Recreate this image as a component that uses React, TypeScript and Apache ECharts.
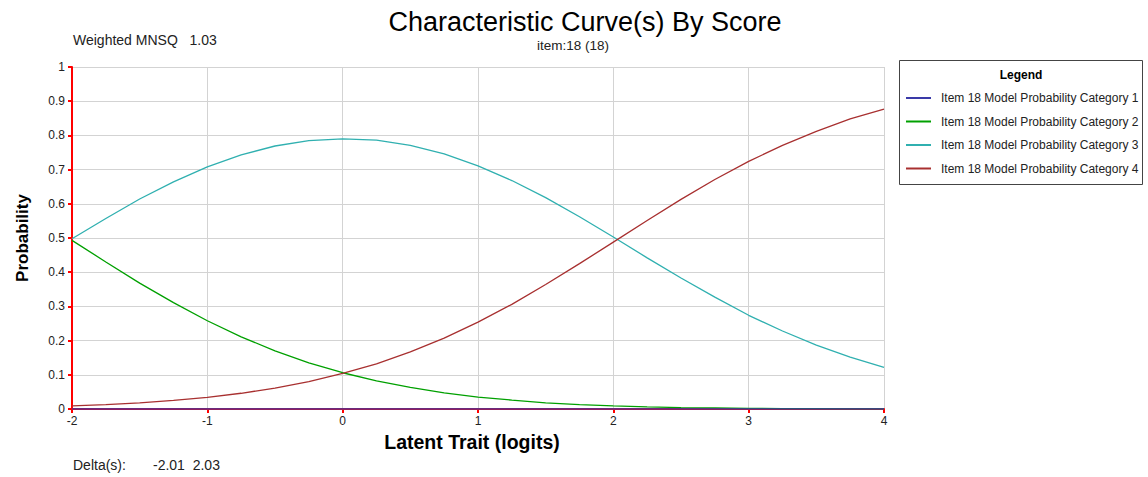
import React, { useEffect, useRef } from "react";
import * as echarts from "echarts";

const thetas = [-2, -1.75, -1.5, -1.25, -1, -0.75, -0.5, -0.25, 0, 0.25, 0.5, 0.75, 1, 1.25, 1.5, 1.75, 2, 2.25, 2.5, 2.75, 3, 3.25, 3.5, 3.75, 4];
const cat1 = [0, 0, 0, 0, 0, 0, 0, 0, 0, 0, 0, 0, 0, 0, 0, 0, 0, 0, 0, 0, 0, 0, 0, 0, 0];
const cat2 = [0.493, 0.43, 0.368, 0.311, 0.258, 0.211, 0.17, 0.135, 0.106, 0.082, 0.063, 0.047, 0.035, 0.026, 0.018, 0.013, 0.009, 0.006, 0.004, 0.003, 0.002, 0.001, 0.001, 0.0005, 0.0003];
const cat3 = [0.498, 0.557, 0.614, 0.664, 0.708, 0.743, 0.769, 0.785, 0.79, 0.786, 0.771, 0.746, 0.711, 0.668, 0.618, 0.562, 0.503, 0.442, 0.383, 0.327, 0.274, 0.228, 0.187, 0.152, 0.122];
const cat4 = [0.009, 0.013, 0.018, 0.025, 0.034, 0.046, 0.061, 0.08, 0.104, 0.132, 0.167, 0.207, 0.254, 0.306, 0.364, 0.425, 0.488, 0.551, 0.613, 0.671, 0.724, 0.771, 0.812, 0.848, 0.877];

const seriesNames = [
  "Item 18 Model Probability Category 1",
  "Item 18 Model Probability Category 2",
  "Item 18 Model Probability Category 3",
  "Item 18 Model Probability Category 4",
];
const seriesColors = ["#3a3aa8", "#00a000", "#30b0b0", "#a83030"];
const seriesData = [cat1, cat2, cat3, cat4];

const FONT = "'Liberation Sans', Arial, sans-serif";

export default function App() {
  const ref = useRef<HTMLDivElement>(null);
  useEffect(() => {
    if (!ref.current) return;
    const chart = echarts.init(ref.current, undefined, { renderer: "svg" });
    const series = seriesData.map((d, i) => ({
      name: seriesNames[i],
      type: "line",
      data: thetas.map((t, j) => [t, d[j]]),
      showSymbol: false,
      symbol: "none",
      lineStyle: { color: seriesColors[i], width: 1.3 },
      itemStyle: { color: seriesColors[i] },
      z: 3 + (i === 0 ? 1 : 0),
    }));
    chart.setOption({
      animation: false,
      backgroundColor: "#ffffff",
      textStyle: { fontFamily: FONT },
      grid: {
        left: 72,
        top: 67,
        right: 264,
        bottom: 68,
        containLabel: false,
        outerBoundsMode: "none",
      },
      xAxis: {
        type: "value",
        min: -2,
        max: 4,
        interval: 1,
        axisLine: { onZero: false, lineStyle: { color: "#ff0000", width: 2 } },
        axisTick: { show: true, length: 4, lineStyle: { color: "#ff0000", width: 2 } },
        axisLabel: { color: "#222", fontSize: 12, fontFamily: FONT, margin: 6 },
        splitLine: { show: true, lineStyle: { color: "#d3d3d3", width: 1 } },
        name: "Latent Trait (logits)",
        nameLocation: "middle",
        nameGap: 23,
        nameTextStyle: {
          color: "#000",
          fontSize: 19.5,
          fontWeight: "bold",
          fontFamily: FONT,
          padding: [0, 12, 0, 0],
        },
      },
      yAxis: {
        type: "value",
        min: 0,
        max: 1,
        interval: 0.1,
        axisLine: { show: true, onZero: false, lineStyle: { color: "#ff0000", width: 2 } },
        axisTick: { show: true, length: 4, lineStyle: { color: "#ff0000", width: 2 } },
        axisLabel: {
          color: "#222",
          fontSize: 12,
          fontFamily: FONT,
          margin: 7,
          formatter: (v: number) => String(Math.round(v * 10) / 10),
        },
        splitLine: { show: true, lineStyle: { color: "#d3d3d3", width: 1 } },
        name: "Probability",
        nameLocation: "middle",
        nameGap: 41,
        nameTextStyle: { color: "#000", fontSize: 17, fontWeight: "bold", fontFamily: FONT },
      },
      legend: {
        show: true,
        orient: "vertical",
        left: 906,
        top: 92,
        padding: 0,
        itemWidth: 25,
        itemHeight: 2,
        itemGap: 11.5,
        icon: "rect",
        textStyle: { color: "#222", fontSize: 12, fontFamily: FONT, padding: [0, 0, 0, 5] },
        data: seriesNames.map((n, i) => ({ name: n, itemStyle: { color: seriesColors[i] } })),
        selectedMode: false,
      },
      graphic: [
        {
          type: "text",
          style: {
            text: "Characteristic Curve(s) By Score",
            x: 585,
            y: 8,
            align: "center",
            fill: "#000",
            fontSize: 27,
            fontFamily: FONT,
          },
        },
        {
          type: "text",
          style: {
            text: "item:18 (18)",
            x: 573,
            y: 38,
            align: "center",
            fill: "#222",
            fontSize: 13.5,
            fontFamily: FONT,
          },
        },
        {
          type: "text",
          style: {
            text: "Weighted MNSQ   1.03",
            x: 73,
            y: 33,
            fill: "#222",
            fontSize: 14,
            fontFamily: FONT,
          },
        },
        {
          type: "text",
          style: {
            text: "Delta(s):",
            x: 73,
            y: 458,
            fill: "#222",
            fontSize: 14,
            fontFamily: FONT,
          },
        },
        {
          type: "text",
          style: {
            text: "-2.01  2.03",
            x: 153,
            y: 458,
            fill: "#222",
            fontSize: 14,
            fontFamily: FONT,
          },
        },
        {
          type: "rect",
          shape: { x: 899.5, y: 60.5, width: 243, height: 124 },
          style: { fill: "#fff", stroke: "#444", lineWidth: 1 },
          z: -1,
        },
        {
          type: "text",
          style: {
            text: "Legend",
            x: 1021,
            y: 69,
            align: "center",
            fill: "#000",
            fontSize: 12,
            fontWeight: "bold",
            fontFamily: FONT,
          },
        },
      ],
      series,
    });
    return () => chart.dispose();
  }, []);
  return (
    <div
      ref={ref}
      style={{ position: "fixed", left: 0, top: 0, width: 1148, height: 477, background: "#fff" }}
    />
  );
}
